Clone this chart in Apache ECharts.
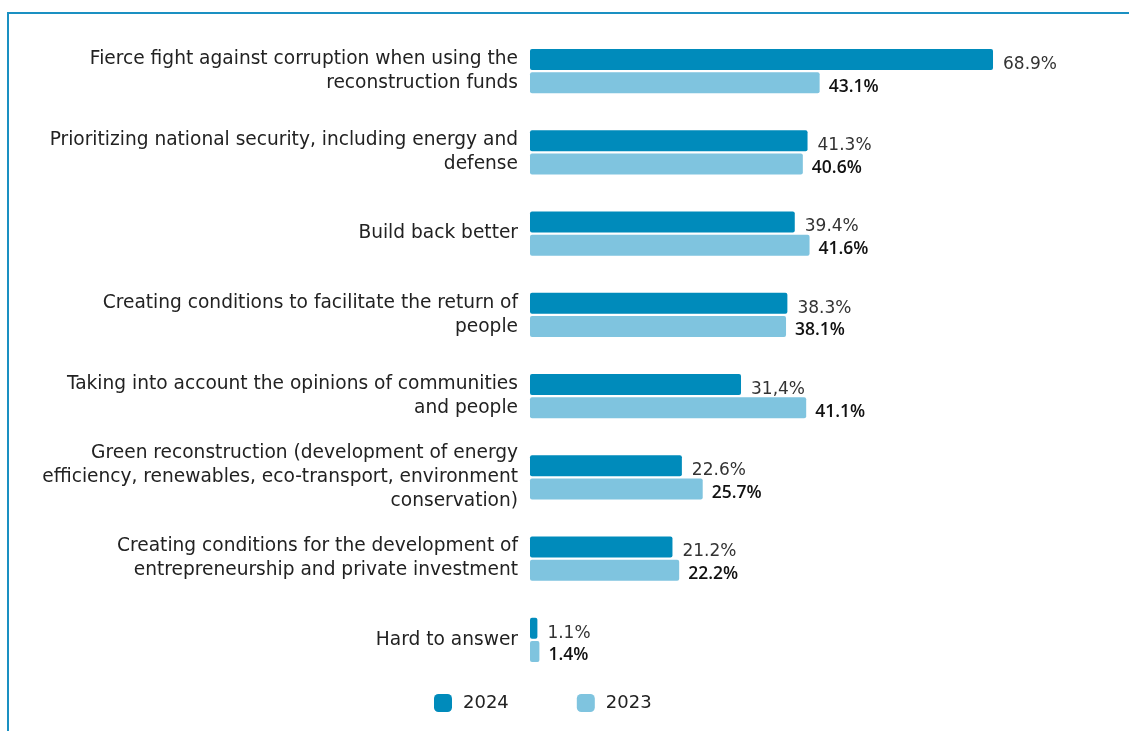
<!DOCTYPE html>
<html>
<head>
<meta charset="utf-8">
<script src="https://cdn.jsdelivr.net/npm/echarts@6/dist/echarts.min.js"></script>
<style>
  html, body { margin: 0; padding: 0; background: #ffffff; }
  #chart { width: 1129px; height: 731px; }
</style>
</head>
<body>
<div id="chart"></div>
<script>
// Reconstruction priorities, share of respondents (%)
const categories = [
  'Fierce fight against corruption when using the\nreconstruction funds',
  'Prioritizing national security, including energy and\ndefense',
  'Build back better',
  'Creating conditions to facilitate the return of\npeople',
  'Taking into account the opinions of communities\nand people',
  'Green reconstruction (development of energy\nefficiency, renewables, eco-transport, environment\nconservation)',
  'Creating conditions for the development of\nentrepreneurship and private investment',
  'Hard to answer'
];
const values2024 = [68.9, 41.3, 39.4, 38.3, 31.4, 22.6, 21.2, 1.1];
const values2023 = [43.1, 40.6, 41.6, 38.1, 41.1, 25.7, 22.2, 1.4];
// Printed labels (one uses a decimal comma as published)
const labels2024 = ['68.9%', '41.3%', '39.4%', '38.3%', '31,4%', '22.6%', '21.2%', '1.1%'];
const labels2023 = ['43.1%', '40.6%', '41.6%', '38.1%', '41.1%', '25.7%', '22.2%', '1.4%'];

const FONT = '"DejaVu Sans", "Open Sans", sans-serif';
const BOLD_FONT = '"Open Sans", "DejaVu Sans", sans-serif';
const DARK = '#008bbb';
const LIGHT = '#7fc4df';

const chart = echarts.init(document.getElementById('chart'));
chart.setOption({
  animation: false,
  textStyle: { fontFamily: FONT },
  graphic: [
    { type: 'line', shape: { x1: 8, y1: 13, x2: 1129, y2: 13 }, style: { stroke: '#1a90c2', lineWidth: 2 } },
    { type: 'line', shape: { x1: 8, y1: 12, x2: 8, y2: 731 }, style: { stroke: '#1a90c2', lineWidth: 2 } }
  ],
  grid: { left: 530, right: 61.4, top: 30.5, height: 650, containLabel: false },
  legend: {
    left: 429, top: 689,
    itemWidth: 18, itemHeight: 18, itemGap: 68,
    icon: 'roundRect',
    textStyle: { fontFamily: FONT, fontSize: 18, color: '#222', padding: [0, 0, 0, 6] },
    data: ['2024', '2023']
  },
  xAxis: {
    type: 'value', min: 0, max: 80,
    show: false
  },
  yAxis: {
    type: 'category', data: categories, inverse: true,
    axisLine: { show: false }, axisTick: { show: false },
    axisLabel: {
      margin: 12, align: 'right', fontFamily: FONT, fontSize: 18.6,
      color: '#222', lineHeight: 24, padding: [0, 0, 6, 0]
    }
  },
  series: [
    {
      name: '2024', type: 'bar', data: values2024,
      barWidth: 21, barGap: '10%',
      itemStyle: { color: DARK, borderRadius: 2 },
      label: {
        show: true, position: 'right', distance: 10, offset: [0, 5],
        fontFamily: FONT, fontSize: 17, color: '#333', fontWeight: 'normal',
        formatter: p => labels2024[p.dataIndex]
      }
    },
    {
      name: '2023', type: 'bar', data: values2023,
      barWidth: 21, barGap: '10%',
      itemStyle: { color: LIGHT, borderRadius: 2 },
      label: {
        show: true, position: 'right', distance: 9, offset: [0, 4],
        fontFamily: BOLD_FONT, fontSize: 17.5, color: '#111', fontWeight: 600,
        formatter: p => labels2023[p.dataIndex]
      }
    }
  ]
});
</script>
</body>
</html>
